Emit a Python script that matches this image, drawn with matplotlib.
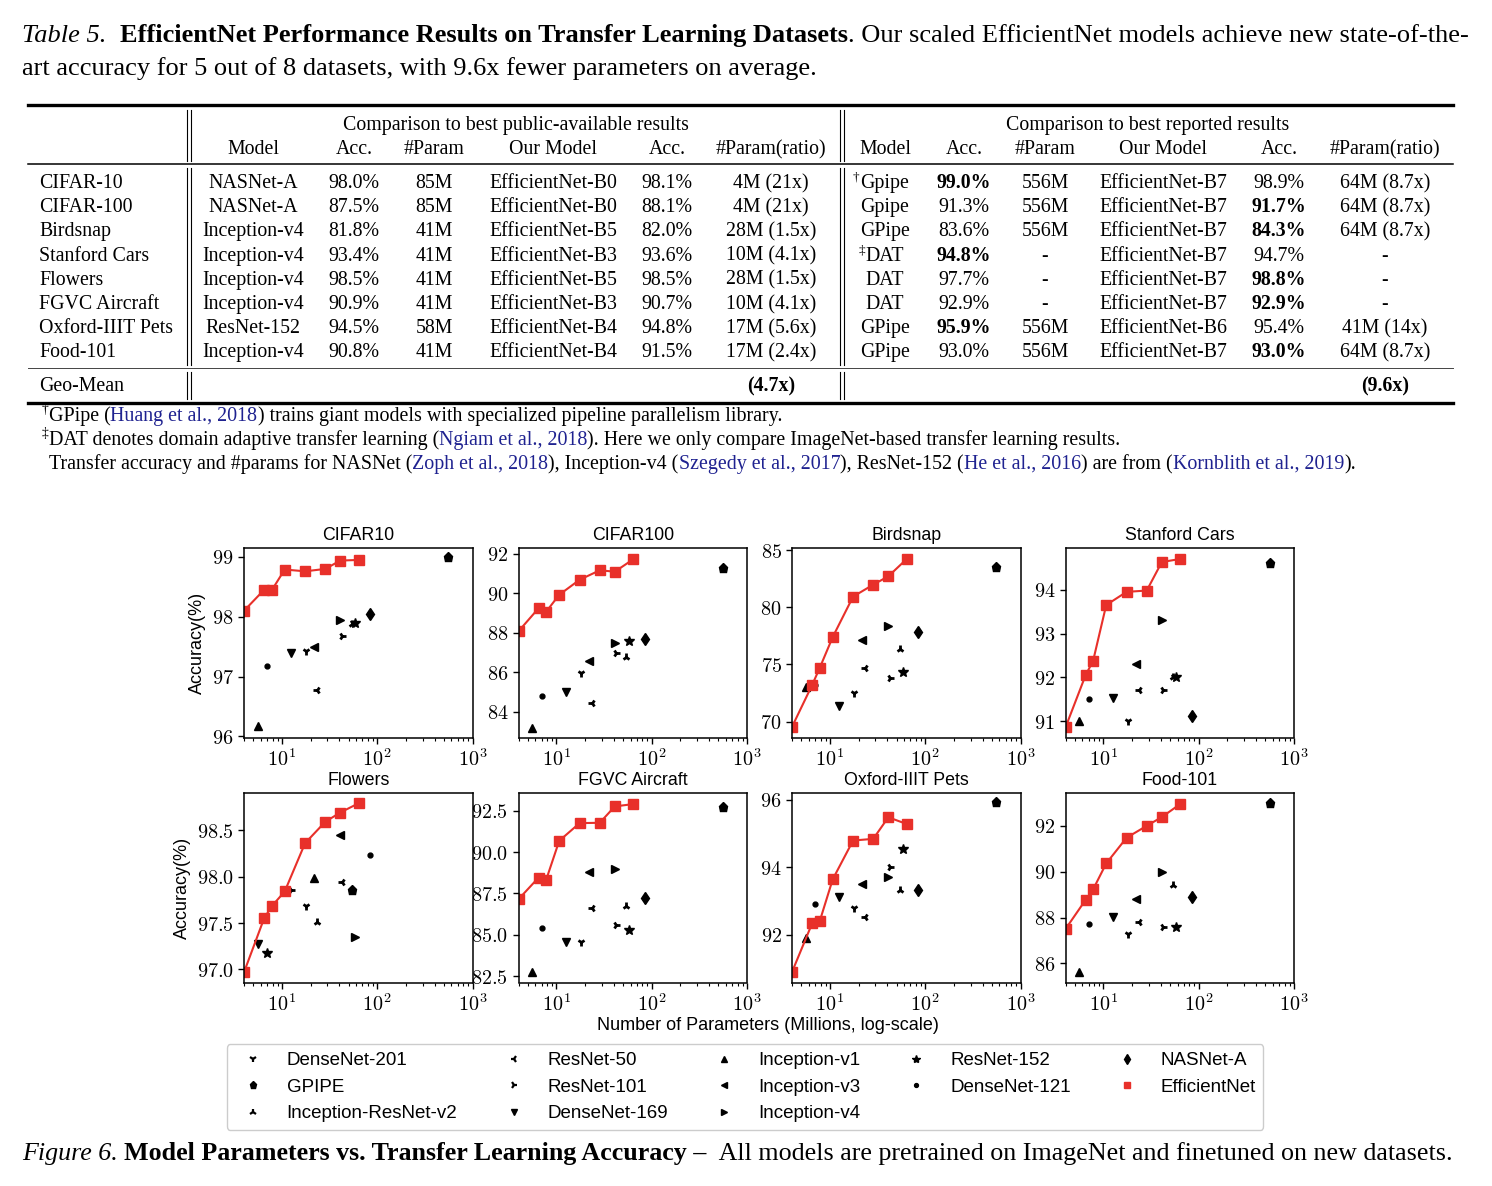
import numpy as np
import matplotlib
matplotlib.use('Agg')
import matplotlib.pyplot as plt
from matplotlib.lines import Line2D
from matplotlib.ticker import FuncFormatter

W, H = 1492, 1186

# ---------------- chart data ----------------
datasets = ['CIFAR10', 'CIFAR100', 'Birdsnap', 'Stanford Cars',
            'Flowers', 'FGVC Aircraft', 'Oxford-IIIT Pets', 'Food-101']

models = ['DenseNet-201', 'GPIPE', 'Inception-ResNet-v2', 'ResNet-50',
          'ResNet-101', 'DenseNet-169', 'Inception-v1', 'Inception-v3',
          'Inception-v4', 'ResNet-152', 'DenseNet-121', 'NASNet-A']
model_markers = ['1', 'p', '2', '3', '4', 'v', '^', '<', '>', '*', '.', 'd']
model_params = [18.1, 556, 54.3, 23.5, 42.5, 12.5, 5.6, 21.8, 41.1, 58.1, 7.0, 84.7]
# in the Flowers panel the markers sit at other parameter counts
flowers_params = [18.1, 54.3, 23.5, 42.5, 12.5, 5.6, 21.8, 41.1, 58.1, 7.0, 84.7, np.nan]

acc_cifar10 = [97.42, 99.0, 97.88, 96.77, 97.68, 97.40, 96.17, 97.50, 97.94, 97.90, 97.18, 98.05]
acc_cifar100 = [85.98, 91.3, 86.8, 84.47, 87.0, 85.0, 83.17, 86.58, 87.49, 87.61, 84.78, 87.7]
acc_birdsnap = [72.54, 83.57, 76.32, 74.68, 73.77, 71.4, 73.0, 77.16, 78.36, 74.3, 73.16, 77.87]
acc_cars = [91.0, 94.61, 92.0, 91.71, 91.71, 91.52, 91.0, 92.31, 93.31, 92.0, 91.51, 91.11]
acc_flowers = [97.68, 97.86, 97.51, 97.94, 97.86, 97.27, 97.98, 98.45, 97.35, 97.18, 98.23, np.nan]
acc_aircraft = [84.58, 92.7, 86.74, 86.6, 85.61, 84.56, 82.74, 88.78, 88.98, 85.31, 85.41, 87.2]
acc_pets = [92.8, 95.92, 93.33, 92.51, 94.02, 93.13, 91.91, 93.51, 93.71, 94.53, 92.91, 93.32]
acc_food = [87.3, 92.98, 89.41, 87.79, 87.6, 88.01, 85.61, 88.8, 89.99, 87.6, 87.71, 88.9]

eff_params = [4.0, 6.5, 7.8, 10.7, 17.5, 28.5, 41.0, 64.0]
eff_cifar10 = [98.10, 98.45, 98.44, 98.79, 98.76, 98.80, 98.94, 98.95]
eff_cifar100 = [88.08, 89.25, 89.07, 89.93, 90.69, 91.17, 91.10, 91.73]
eff_birdsnap = [69.53, 73.19, 74.68, 77.40, 80.94, 81.99, 82.72, 84.24]
eff_cars = [90.86, 92.05, 92.38, 93.65, 93.95, 93.98, 94.63, 94.70]
eff_flowers = [96.97, 97.55, 97.68, 97.84, 98.36, 98.59, 98.69, 98.79]
eff_aircraft = [87.15, 88.46, 88.32, 90.68, 91.75, 91.77, 92.76, 92.90]
eff_pets = [90.89, 92.33, 92.39, 93.64, 94.79, 94.84, 95.48, 95.28]
eff_food = [87.50, 88.77, 89.23, 90.36, 91.48, 92.00, 92.38, 92.95]

base_acc = [acc_cifar10, acc_cifar100, acc_birdsnap, acc_cars,
            acc_flowers, acc_aircraft, acc_pets, acc_food]
eff_acc = [eff_cifar10, eff_cifar100, eff_birdsnap, eff_cars,
           eff_flowers, eff_aircraft, eff_pets, eff_food]
y_limits = [(95.98, 99.15), (82.7, 92.3), (68.6, 85.2), (90.63, 94.95),
            (96.86, 98.9), (82.12, 93.57), (90.58, 96.2), (85.17, 93.43)]
y_ticks = [[96, 97, 98, 99], [84, 86, 88, 90, 92], [70, 75, 80, 85], [91, 92, 93, 94],
           [97.0, 97.5, 98.0, 98.5], [82.5, 85.0, 87.5, 90.0, 92.5], [92, 94, 96], [86, 88, 90, 92]]

# ---------------- table data ----------------
tab_datasets = ['CIFAR-10', 'CIFAR-100', 'Birdsnap', 'Stanford Cars', 'Flowers',
                'FGVC Aircraft', 'Oxford-IIIT Pets', 'Food-101']
col_names = ['Model', 'Acc.', '#Param', 'Our Model', 'Acc.', '#Param(ratio)']
pub_model = ['NASNet-A', 'NASNet-A', 'Inception-v4', 'Inception-v4', 'Inception-v4',
             'Inception-v4', 'ResNet-152', 'Inception-v4']
pub_acc = ['98.0%', '87.5%', '81.8%', '93.4%', '98.5%', '90.9%', '94.5%', '90.8%']
pub_param = ['85M', '85M', '41M', '41M', '41M', '41M', '58M', '41M']
pub_ours = ['EfficientNet-B0', 'EfficientNet-B0', 'EfficientNet-B5', 'EfficientNet-B3',
            'EfficientNet-B5', 'EfficientNet-B3', 'EfficientNet-B4', 'EfficientNet-B4']
pub_our_acc = ['98.1%', '88.1%', '82.0%', '93.6%', '98.5%', '90.7%', '94.8%', '91.5%']
pub_ratio = ['4M (21x)', '4M (21x)', '28M (1.5x)', '10M (4.1x)', '28M (1.5x)',
             '10M (4.1x)', '17M (5.6x)', '17M (2.4x)']
rep_mark = ['\u2020', '', '', '\u2021', '', '', '', '']
rep_model = ['Gpipe', 'Gpipe', 'GPipe', 'DAT', 'DAT', 'DAT', 'GPipe', 'GPipe']
rep_acc = ['99.0%', '91.3%', '83.6%', '94.8%', '97.7%', '92.9%', '95.9%', '93.0%']
rep_param = ['556M', '556M', '556M', '-', '-', '-', '556M', '556M']
rep_ours = ['EfficientNet-B7'] * 6 + ['EfficientNet-B6', 'EfficientNet-B7']
rep_our_acc = ['98.9%', '91.7%', '84.3%', '94.7%', '98.8%', '92.9%', '95.4%', '93.0%']
rep_ratio = ['64M (8.7x)', '64M (8.7x)', '64M (8.7x)', '-', '-', '-', '41M (14x)', '64M (8.7x)']
rep_acc_bold = [True, False, False, True, False, False, True, False]
geo_mean = ['(4.7x)', '(9.6x)']

# ---------------- style ----------------
plt.rcParams['font.family'] = 'Liberation Sans'
plt.rcParams['mathtext.fontset'] = 'cm'
plt.rcParams['mathtext.default'] = 'rm'

SERIF = 'Liberation Serif'
BLUE = '#1f2290'
RED = '#e8302a'
marker_size = {'1': 6, '2': 6, '3': 6, '4': 6, 'p': 6.5, 'v': 6, '^': 6,
               '<': 6, '>': 6, '*': 7.5, '.': 7, 'd': 6.5}

fig = plt.figure(figsize=(W / 100, H / 100), dpi=100)
renderer = fig.canvas.get_renderer()


def fx(x):
    return x / W


def fy(y):
    return 1 - y / H


def text_width(s, **kw):
    # width including trailing spaces
    a = fig.text(0, 0, s + '|', **kw)
    b = fig.text(0, 0, '|', **kw)
    w = a.get_window_extent(renderer).width - b.get_window_extent(renderer).width
    a.remove()
    b.remove()
    return w


def put_runs(x, y, runs, size):
    # draw text pieces one after the other, pixel coords, y = baseline
    for s, style in runs:
        kw = dict(family=SERIF, fontsize=size)
        dy = 0
        if 'sup' in style:
            kw['fontsize'] = size * 0.68
            dy = size * 1.389 * 0.38
        if 'bold' in style:
            kw['fontweight'] = 'bold'
        if 'italic' in style:
            kw['fontstyle'] = 'italic'
        if 'blue' in style:
            kw['color'] = BLUE
        fig.text(fx(x), fy(y - dy), s, va='baseline', ha='left', **kw)
        x += text_width(s, **kw)
    return x


def cell(x, y, s, size=14.3, ha='center', bold=False):
    fig.text(fx(x), fy(y), s, family=SERIF, fontsize=size, va='baseline', ha=ha,
             fontweight='bold' if bold else 'normal')


def hline(y, lw, x0=28, x1=1453, color='black'):
    fig.add_artist(Line2D([fx(x0), fx(x1)], [fy(y), fy(y)], lw=lw, color=color,
                          transform=fig.transFigure))


def vline(x, y0, y1):
    fig.add_artist(Line2D([fx(x), fx(x)], [fy(y0), fy(y1)], lw=0.8, color='black',
                          transform=fig.transFigure))


# ---------------- table caption ----------------
put_runs(22, 42, [('Table 5.', 'italic'), ('  ', ''),
                  ('EfficientNet Performance Results on Transfer Learning Datasets', 'bold'),
                  ('. Our scaled EfficientNet models achieve new state-of-the-', '')], 19)
put_runs(22, 75, [('art accuracy for 5 out of 8 datasets, with 9.6x fewer parameters on average.', '')], 19)

# ---------------- table ----------------
hline(105, 2.4)
hline(164, 1.1)
hline(368, 0.7, color='#444444')
hline(403, 2.4)
for vx in (187, 191, 840, 844):
    vline(vx, 110, 161)
    vline(vx, 168, 365)
    vline(vx, 372, 399)

left_cols = [253, 354, 434, 553, 667, 771]
right_cols = [885, 964, 1045, 1163, 1279, 1385]
cell(516, 130, 'Comparison to best public-available results')
cell(1148, 130, 'Comparison to best reported results')
for cx, name in zip(left_cols, col_names):
    cell(cx, 154, name)
for cx, name in zip(right_cols, col_names):
    cell(cx, 154, name)

for i, name in enumerate(tab_datasets):
    yb = 188 + 24.2 * i
    cell(39, yb, name, ha='left')
    row_l = [pub_model[i], pub_acc[i], pub_param[i], pub_ours[i], pub_our_acc[i], pub_ratio[i]]
    for cx, s in zip(left_cols, row_l):
        cell(cx, yb, s)
    cell(right_cols[0], yb, rep_model[i])
    if rep_mark[i]:
        wm = text_width(rep_model[i], family=SERIF, fontsize=14.3)
        fig.text(fx(right_cols[0] - wm / 2 - 1), fy(yb - 7), rep_mark[i], family=SERIF,
                 fontsize=9.5, va='baseline', ha='right')
    cell(right_cols[1], yb, rep_acc[i], bold=rep_acc_bold[i])
    cell(right_cols[2], yb, rep_param[i])
    cell(right_cols[3], yb, rep_ours[i])
    cell(right_cols[4], yb, rep_our_acc[i], bold=not rep_acc_bold[i])
    cell(right_cols[5], yb, rep_ratio[i])

cell(39, 391, 'Geo-Mean', ha='left')
cell(left_cols[5], 391, geo_mean[0], bold=True)
cell(right_cols[5], 391, geo_mean[1], bold=True)

# ---------------- footnotes ----------------
fs = 14.4
put_runs(42, 421, [('\u2020', 'sup'), ('GPipe (', ''), ('Huang et al., 2018', 'blue'),
                   (') trains giant models with specialized pipeline parallelism library.', '')], fs)
put_runs(42, 445, [('\u2021', 'sup'), ('DAT denotes domain adaptive transfer learning (', ''),
                   ('Ngiam et al., 2018', 'blue'),
                   ('). Here we only compare ImageNet-based transfer learning results.', '')], fs)
put_runs(49, 469, [('Transfer accuracy and #params for NASNet (', ''), ('Zoph et al., 2018', 'blue'),
                   ('), Inception-v4 (', ''), ('Szegedy et al., 2017', 'blue'),
                   ('), ResNet-152 (', ''), ('He et al., 2016', 'blue'), (') are from (', ''),
                   ('Kornblith et al., 2019', 'blue'), (').', '')], fs)

# ---------------- scatter panels ----------------
col_x = [244, 518.5, 792, 1065.5]
ax_w = 228.5
row_y = [(548, 737.5), (793, 982.5)]

x_fmt = FuncFormatter(lambda v, p: r'$10^{%d}$' % round(np.log10(v)))

for k, name in enumerate(datasets):
    r, c = divmod(k, 4)
    top, bot = row_y[r]
    ax = fig.add_axes([fx(col_x[c]), fy(bot), ax_w / W, (bot - top) / H])
    params = flowers_params if name == 'Flowers' else model_params
    for m, mk, px, acc in zip(models, model_markers, params, base_acc[k]):
        if np.isnan(acc) or np.isnan(px):
            continue
        ax.plot(px, acc, marker=mk, color='black', ms=marker_size[mk],
                mew=2 if mk in '1234' else 1, linestyle='none')
    ax.plot(eff_params, eff_acc[k], color=RED, marker='s', ms=6.5, lw=1.5)
    ax.set_xscale('log')
    ax.set_xlim(4, 1000)
    ax.set_ylim(*y_limits[k])
    ax.set_yticks(y_ticks[k])
    ax.xaxis.set_major_formatter(x_fmt)
    if any(t != int(t) for t in y_ticks[k]):
        ax.yaxis.set_major_formatter(FuncFormatter(lambda v, p: r'$%.1f$' % v))
    else:
        ax.yaxis.set_major_formatter(FuncFormatter(lambda v, p: r'$%d$' % round(v)))
    ax.set_title(name, fontsize=12.8, pad=6)
    ax.tick_params(labelsize=14.5, length=4, width=1)
    ax.tick_params(which='minor', length=2.2, width=0.8)
    for sp in ax.spines.values():
        sp.set_linewidth(1.1)
    if c == 0:
        ax.set_ylabel('Accuracy(%)', fontsize=13)

fig.text(fx(768), fy(1025), 'Number of Parameters (Millions, log-scale)', fontsize=13,
         ha='center', va='center')

# ---------------- legend ----------------
handles = [Line2D([], [], marker=mk, color='black', linestyle='none',
                  ms=marker_size[mk] * 0.8, mew=1.6 if mk in '1234' else 1)
           for mk in model_markers]
handles.append(Line2D([], [], marker='s', color=RED, linestyle='none', ms=5))
leg = fig.legend(handles, models + ['EfficientNet'], ncol=5, loc='center',
                 bbox_to_anchor=(fx(745), fy(1087)), fontsize=13.5, frameon=True,
                 fancybox=True, edgecolor='#cccccc', framealpha=1)

# ---------------- figure caption ----------------
put_runs(22, 1160, [('Figure 6.', 'italic'), (' ', ''),
                    ('Model Parameters vs. Transfer Learning Accuracy \u2013', 'bold'),
                    ('  All models are pretrained on ImageNet and finetuned on new datasets.', '')],
         18.7)

fig.savefig('out.png', dpi=100)
